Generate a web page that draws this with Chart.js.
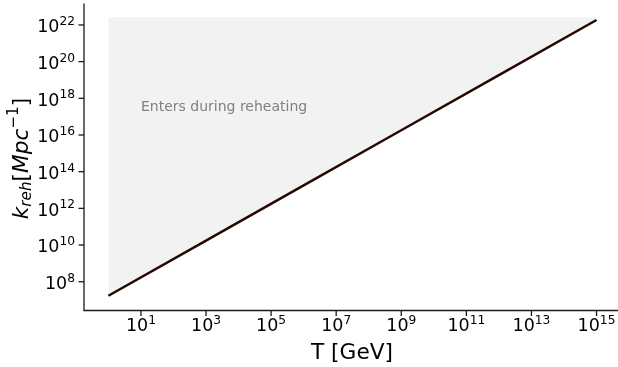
<!DOCTYPE html>
<html>
<head>
<meta charset="utf-8">
<script src="https://cdn.jsdelivr.net/npm/chart.js@4"></script>
<style>
  html, body { margin: 0; padding: 0; background: #ffffff; overflow: hidden; }
  canvas { display: block; }
</style>
</head>
<body>
<canvas id="chart" width="618" height="367"></canvas>
<script>
// Reheating wavenumber against temperature
const tempGeV = [1, 1e3, 1e6, 1e9, 1e12, 1e15];
const kReh    = [1.72e7, 1.75e10, 1.78e13, 1.81e16, 1.84e19, 1.86e22];
// Upper edge of the shaded "enters during reheating" band
const bandTop = [2.6e22, 2.6e22, 2.6e22, 2.6e22, 2.6e22, 2.6e22];

// Tick labels (powers of ten)
const xTickExps = [1, 3, 5, 7, 9, 11, 13, 15];
const yTickExps = [8, 10, 12, 14, 16, 18, 20, 22];

const regionLabel = 'Enters during reheating';
const regionLabelAt = { x: 10, y: 2e17 };

const FONT = "'DejaVu Sans', 'Liberation Sans', sans-serif";
const TICK_PX = 17.5, SUP_PX = 12.25, LABEL_PX = 21.7;

function drawPow(ctx, exp, x, y, align) {
  const base = '10', sup = String(exp);
  ctx.font = TICK_PX + 'px ' + FONT;
  const wb = ctx.measureText(base).width;
  ctx.font = SUP_PX + 'px ' + FONT;
  const ws = ctx.measureText(sup).width;
  const total = wb + ws;
  let left = x;
  if (align === 'center') left = x - total / 2;
  else if (align === 'right') left = x - total;
  ctx.textAlign = 'left';
  ctx.textBaseline = 'alphabetic';
  ctx.font = TICK_PX + 'px ' + FONT;
  ctx.fillText(base, left, y);
  ctx.font = SUP_PX + 'px ' + FONT;
  ctx.fillText(sup, left + wb, y - 7.4);
}

const axesPlugin = {
  id: 'axesDecor',
  beforeDraw(chart) {
    const ctx = chart.ctx;
    ctx.save();
    ctx.fillStyle = '#ffffff';
    ctx.fillRect(0, 0, chart.width, chart.height);
    ctx.restore();
  },
  afterDraw(chart) {
    const ctx = chart.ctx;
    const area = chart.chartArea;
    const xs = chart.scales.x, ys = chart.scales.y;
    ctx.save();

    // spines
    ctx.strokeStyle = '#1a1a1a';
    ctx.lineWidth = 1.3;
    ctx.beginPath();
    ctx.moveTo(area.left, area.top);
    ctx.lineTo(area.left, area.bottom);
    ctx.lineTo(area.right, area.bottom);
    ctx.stroke();

    // x ticks
    ctx.fillStyle = '#000000';
    for (const e of xTickExps) {
      const px = xs.getPixelForValue(Math.pow(10, e));
      ctx.beginPath();
      ctx.moveTo(px, area.bottom);
      ctx.lineTo(px, area.bottom + 5.5);
      ctx.stroke();
      drawPow(ctx, e, px, area.bottom + 20.5, 'center');
    }
    // y ticks
    for (const e of yTickExps) {
      const py = ys.getPixelForValue(Math.pow(10, e));
      ctx.beginPath();
      ctx.moveTo(area.left - 5.5, py);
      ctx.lineTo(area.left, py);
      ctx.stroke();
      drawPow(ctx, e, area.left - 9, py + 7.3, 'right');
    }

    // x axis title
    ctx.font = LABEL_PX + 'px ' + FONT;
    ctx.textAlign = 'center';
    ctx.textBaseline = 'alphabetic';
    ctx.fillText('T [GeV]', 352, 358.5);

    // y axis title: k_reh [Mpc^-1]
    ctx.save();
    ctx.translate(27.5, 158.5);
    ctx.rotate(-Math.PI / 2);
    const sub = (LABEL_PX * 0.7).toFixed(2) + 'px ';
    const parts = [
      { t: 'k',   f: 'italic ' + LABEL_PX + 'px ', dy: 0 },
      { t: 'reh', f: 'italic ' + sub, dy: 3.9 },
      { t: '[',   f: LABEL_PX + 'px ', dy: 0 },
      { t: 'Mpc', f: 'italic ' + LABEL_PX + 'px ', dy: 0 },
      { t: '\u22121', f: sub, dy: -9.4 },
      { t: ']',   f: LABEL_PX + 'px ', dy: 0 }
    ];
    let width = 0;
    for (const p of parts) { ctx.font = p.f + FONT; p.w = ctx.measureText(p.t).width; width += p.w; }
    let cx = -width / 2;
    ctx.textAlign = 'left';
    for (const p of parts) {
      ctx.font = p.f + FONT;
      ctx.fillText(p.t, cx, p.dy);
      cx += p.w;
    }
    ctx.restore();

    // region annotation
    ctx.font = '14px ' + FONT;
    ctx.fillStyle = '#808080';
    ctx.textAlign = 'left';
    ctx.textBaseline = 'alphabetic';
    ctx.fillText(regionLabel, xs.getPixelForValue(regionLabelAt.x), ys.getPixelForValue(regionLabelAt.y));

    ctx.restore();
  }
};

new Chart(document.getElementById('chart'), {
  type: 'line',
  data: {
    datasets: [
      {
        label: 'k_reh',
        data: tempGeV.map((t, i) => ({ x: t, y: kReh[i] })),
        borderColor: '#250800',
        borderWidth: 2.5,
        borderCapStyle: 'butt',
        pointRadius: 0,
        tension: 0,
        fill: false
      },
      {
        label: 'band',
        data: tempGeV.map((t, i) => ({ x: t, y: bandTop[i] })),
        borderWidth: 0,
        borderColor: 'rgba(0,0,0,0)',
        backgroundColor: '#f2f2f2',
        pointRadius: 0,
        tension: 0,
        fill: 0
      }
    ]
  },
  options: {
    responsive: false,
    devicePixelRatio: 1,
    animation: false,
    events: [],
    layout: { padding: { left: 84, top: 3.5, right: 0, bottom: 56.5 } },
    plugins: { legend: { display: false }, tooltip: { enabled: false } },
    scales: {
      x: { type: 'logarithmic', min: Math.pow(10, -0.75), max: Math.pow(10, 15.66), display: false },
      y: { type: 'logarithmic', min: Math.pow(10, 6.43), max: Math.pow(10, 23.17), display: false }
    }
  },
  plugins: [axesPlugin]
});
</script>
</body>
</html>
